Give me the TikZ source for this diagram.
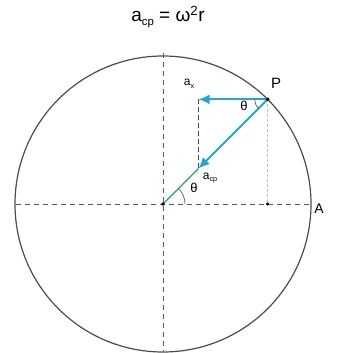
\documentclass[tikz,border=0pt]{standalone}
\usepackage{fontspec}
\setmainfont{Liberation Sans}
\usetikzlibrary{arrows.meta, positioning, calc}
\definecolor{ciano}{RGB}{35,165,220}
\definecolor{verde}{RGB}{40,160,115}
\newcommand{\sotto}[1]{\raisebox{-0.45ex}{\scalebox{0.6}{#1}}}

\begin{document}
\begin{tikzpicture}[x=1pt, y=-1pt,
    asse/.style={black!65, line width=1pt, dash pattern=on 5pt off 4pt},
    guida/.style={black!70, line width=0.8pt, dash pattern=on 5pt off 3pt},
    vettore/.style={ciano, line width=2pt, -{Latex[length=11pt, width=10pt]}},
    punto/.style={circle, fill=black, inner sep=1.4pt}]
    \useasboundingbox (0,0) rectangle (342,353);

    % Titolo
    \node (titolo) at (168,17) {\fontsize{19}{22}\selectfont a\sotto{cp} = ω\textsuperscript{2}r};

    % Cerchio
    \coordinate (O) at (163,204);
    \draw[black!70, line width=1.2pt] (O) circle[radius=148];

    % Assi tratteggiati
    \draw[asse] (16,204) -- (310,204);
    \draw[asse] (163,53) -- (163,351);

    % Punti (asse y verso il basso)
    \coordinate (P) at ($(O)+(-45:148)$);
    \coordinate (T) at ($(O)!0.34!(P)$);
    \coordinate (X) at (T |- P);
    \coordinate (Q) at (P |- O);

    % Linee di guida
    \draw[black!25, line width=1pt, dash pattern=on 3pt off 2pt] (P) -- (Q);
    \draw[guida] (X) -- (T);

    % Raggio e vettori
    \draw[verde, line width=1.2pt] (O) -- (T);
    \draw[vettore] (P) -- (X);
    \draw[vettore] (P) -- (T);

    % Angoli
    \draw[black!70, line width=0.6pt] ($(O)+(0:22)$) arc[start angle=0, end angle=-45, radius=22];
    \draw[black!70, line width=0.6pt] ($(P)+(180:13)$) arc[start angle=180, end angle=135, radius=13];

    \node[punto] (o) at (O) {};
    \node[punto] (p) at (P) {};
    \node[punto, inner sep=1.2pt] (q) at (Q) {};

    % Etichette
    \node (lp) at (276,83) {\fontsize{15}{17}\selectfont P};
    \node (la) at (319,209) {\fontsize{14}{16}\selectfont A};
    \node (lx) at (189,84) {\fontsize{12}{14}\selectfont a\sotto{x}};
    \node (lt1) at (244,106) {\fontsize{13}{15}\selectfont θ};
    \node (lcp) at (210,178) {\fontsize{12}{14}\selectfont a\sotto{cp}};
    \node (lt2) at (194,188) {\fontsize{13}{15}\selectfont θ};
\end{tikzpicture}
\end{document}
